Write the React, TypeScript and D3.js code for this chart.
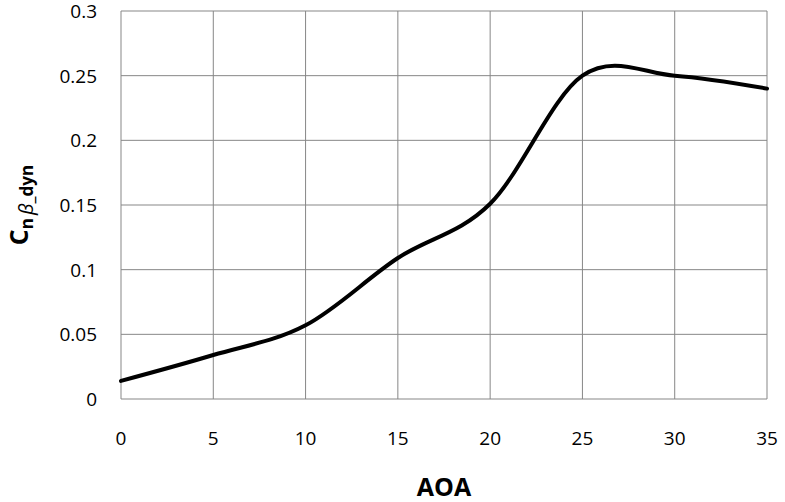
import * as d3 from 'd3';

const aoa = [0, 5, 10, 15, 20, 25, 30, 35];
const cnBetaDyn = [0.014, 0.034, 0.057, 0.109, 0.151, 0.25, 0.25, 0.24];
const xTicks = [0, 5, 10, 15, 20, 25, 30, 35];
const yTicks = [0, 0.05, 0.1, 0.15, 0.2, 0.25, 0.3];

export default function App() {
    const width = 785;
    const height = 502;
    const margin = { top: 11, right: 18, bottom: 103, left: 121 };
    const innerWidth = width - margin.left - margin.right;
    const innerHeight = height - margin.top - margin.bottom;

    const xScale = d3.scaleLinear().domain([0, 35]).range([0, innerWidth]);
    const yScale = d3.scaleLinear().domain([0, 0.3]).range([innerHeight, 0]);

    const line = d3
        .line<number>()
        .x((d, i) => xScale(aoa[i]))
        .y((d) => yScale(d))
        .curve(d3.curveCardinal.tension(0));

    const font = "'Open Sans', sans-serif";

    return (
        <svg
            width={width}
            height={height}
            style={{ position: 'absolute', left: 0, top: 0, background: '#fff' }}
        >
            <g transform={`translate(${margin.left}, ${margin.top})`}>
                {xTicks.map((t) => (
                    <line
                        key={'gx' + t}
                        x1={xScale(t)}
                        x2={xScale(t)}
                        y1={0}
                        y2={innerHeight}
                        stroke="#878787"
                        strokeWidth={1}
                    />
                ))}
                {yTicks.map((t) => (
                    <line
                        key={'gy' + t}
                        x1={0}
                        x2={innerWidth}
                        y1={yScale(t)}
                        y2={yScale(t)}
                        stroke="#878787"
                        strokeWidth={1}
                    />
                ))}
                <path
                    d={line(cnBetaDyn) || ''}
                    fill="none"
                    stroke="#000"
                    strokeWidth={4}
                    strokeLinecap="round"
                />
                {yTicks.map((t) => (
                    <text
                        key={'ty' + t}
                        x={-24}
                        y={yScale(t)}
                        dy="0.36em"
                        textAnchor="end"
                        fontFamily={font}
                        fontSize={19}
                        fill="#000"
                    >
                        {d3.format('~g')(t)}
                    </text>
                ))}
                {xTicks.map((t) => (
                    <text
                        key={'tx' + t}
                        x={xScale(t)}
                        y={innerHeight + 39}
                        dy="0.36em"
                        textAnchor="middle"
                        fontFamily={font}
                        fontSize={19}
                        fill="#000"
                    >
                        {t}
                    </text>
                ))}
                <text
                    x={innerWidth / 2}
                    y={innerHeight + 88}
                    dy="0.36em"
                    textAnchor="middle"
                    fontFamily={font}
                    fontWeight="bold"
                    fontSize={25}
                    fill="#000"
                >
                    AOA
                </text>
            </g>
            <text
                transform="translate(28, 205) rotate(-90)"
                textAnchor="middle"
                fontFamily={font}
                fontWeight="bold"
                fill="#000"
            >
                <tspan fontSize={25}>C</tspan>
                <tspan fontSize={17} dy={5}>n</tspan>
                <tspan fontSize={20} fontStyle="italic" fontWeight="normal" dx={3}>β</tspan>
                <tspan fontSize={17}>_dyn</tspan>
            </text>
        </svg>
    );
}
